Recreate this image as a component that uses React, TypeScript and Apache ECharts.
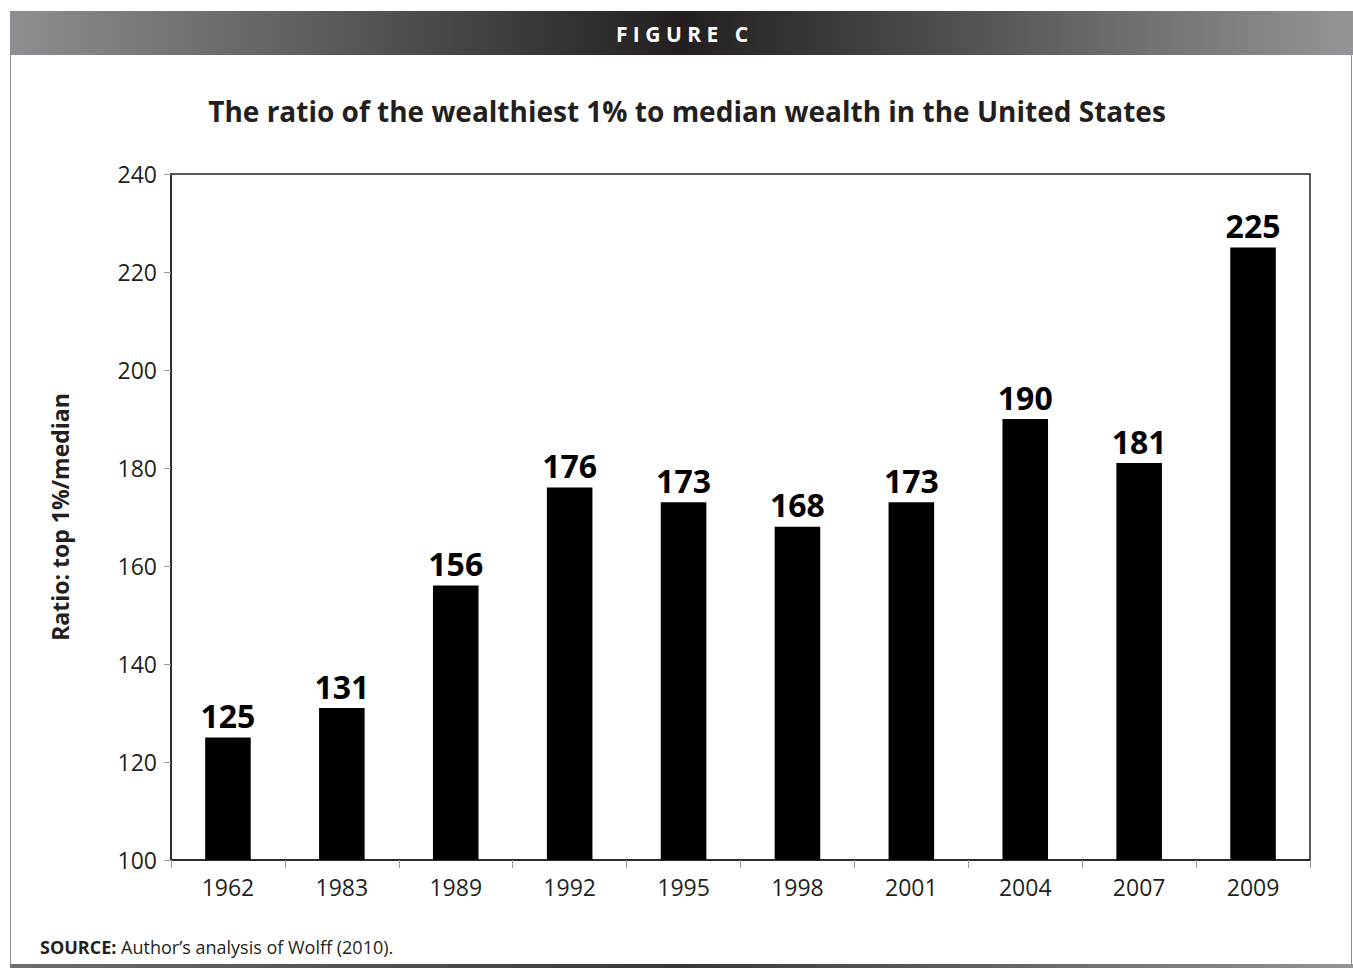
import React, { useEffect, useRef } from "react";
import * as echarts from "echarts";

const years = ["1962", "1983", "1989", "1992", "1995", "1998", "2001", "2004", "2007", "2009"];
const ratios = [125, 131, 156, 176, 173, 168, 173, 190, 181, 225];
const yTicks = { min: 100, max: 240, interval: 20 };

const FONT = "'Open Sans', 'Noto Sans', sans-serif";

export default function App() {
  const ref = useRef<HTMLDivElement>(null);
  useEffect(() => {
    const chart = echarts.init(ref.current!, null, { renderer: "svg" });
    chart.setOption({
      animation: false,
      backgroundColor: "#ffffff",
      graphic: [
        {
          type: "rect",
          shape: { x: 10, y: 11, width: 1343, height: 44 },
          style: {
            fill: new echarts.graphic.LinearGradient(0, 0, 1, 0, [
              { offset: 0, color: "#8e8f92" },
              { offset: 0.5, color: "#231f20" },
              { offset: 1, color: "#949598" },
            ]),
          },
        },
        {
          type: "text",
          x: 682,
          y: 34,
          style: {
            text: "F I G U R E   C",
            fill: "#ffffff",
            font: `bold 21px ${FONT}`,
            align: "center",
            verticalAlign: "middle",
          },
        },
        {
          type: "line",
          shape: { x1: 10.5, y1: 55, x2: 10.5, y2: 966 },
          style: { stroke: "#8e8f92", lineWidth: 1 },
        },
        {
          type: "line",
          shape: { x1: 1351.5, y1: 55, x2: 1351.5, y2: 966 },
          style: { stroke: "#8e8f92", lineWidth: 1 },
        },
        {
          type: "rect",
          shape: { x: 10, y: 964, width: 1343, height: 4 },
          style: {
            fill: new echarts.graphic.LinearGradient(0, 0, 1, 0, [
              { offset: 0, color: "#6d6e71" },
              { offset: 0.5, color: "#3a3738" },
              { offset: 1, color: "#949598" },
            ]),
          },
        },
        {
          type: "text",
          x: 40,
          y: 947,
          style: {
            text: "{b|SOURCE:} Author\u2019s analysis of Wolff (2010).",
            fill: "#231f20",
            font: `18px ${FONT}`,
            verticalAlign: "middle",
            rich: {
              b: { font: `bold 18px ${FONT}`, fill: "#231f20" },
            },
          },
        },
      ],
      title: {
        text: "The ratio of the wealthiest 1% to median wealth in the United States",
        left: 682,
        textAlign: "center",
        top: 92,
        textStyle: { fontFamily: FONT, fontWeight: "bold", fontSize: 28, color: "#231f20" },
      },
      grid: {
        left: 171,
        right: 43,
        top: 174,
        bottom: 108,
        show: true,
        borderColor: "#231f20",
        borderWidth: 1.5,
        backgroundColor: "transparent",
      },
      xAxis: {
        type: "category",
        data: years,
        axisLine: { show: true, lineStyle: { color: "#231f20", width: 1.5 } },
        axisTick: { show: true, alignWithLabel: false, length: 8, lineStyle: { color: "#9a9a9a" } },
        axisLabel: { fontFamily: FONT, fontSize: 23, color: "#231f20", margin: 15 },
      },
      yAxis: {
        type: "value",
        min: yTicks.min,
        max: yTicks.max,
        interval: yTicks.interval,
        name: "Ratio: top 1%/median",
        nameLocation: "middle",
        nameGap: 100,
        nameTextStyle: { fontFamily: FONT, fontWeight: "bold", fontSize: 23, color: "#231f20" },
        splitLine: { show: false },
        axisLine: { show: true, lineStyle: { color: "#231f20", width: 1.5 } },
        axisTick: { show: true, length: 7, lineStyle: { color: "#9a9a9a" } },
        axisLabel: { fontFamily: FONT, fontSize: 23, color: "#231f20", margin: 14 },
      },
      series: [
        {
          type: "bar",
          data: ratios,
          barWidth: "40%",
          itemStyle: { color: "#000000" },
          label: {
            show: true,
            position: "top",
            distance: 6,
            fontFamily: FONT,
            fontWeight: "bold",
            fontSize: 32,
            color: "#000000",
          },
        },
      ],
    });
    return () => chart.dispose();
  }, []);
  return (
    <div
      ref={ref}
      style={{ position: "absolute", left: 0, top: 0, width: 1353, height: 968 }}
    />
  );
}
